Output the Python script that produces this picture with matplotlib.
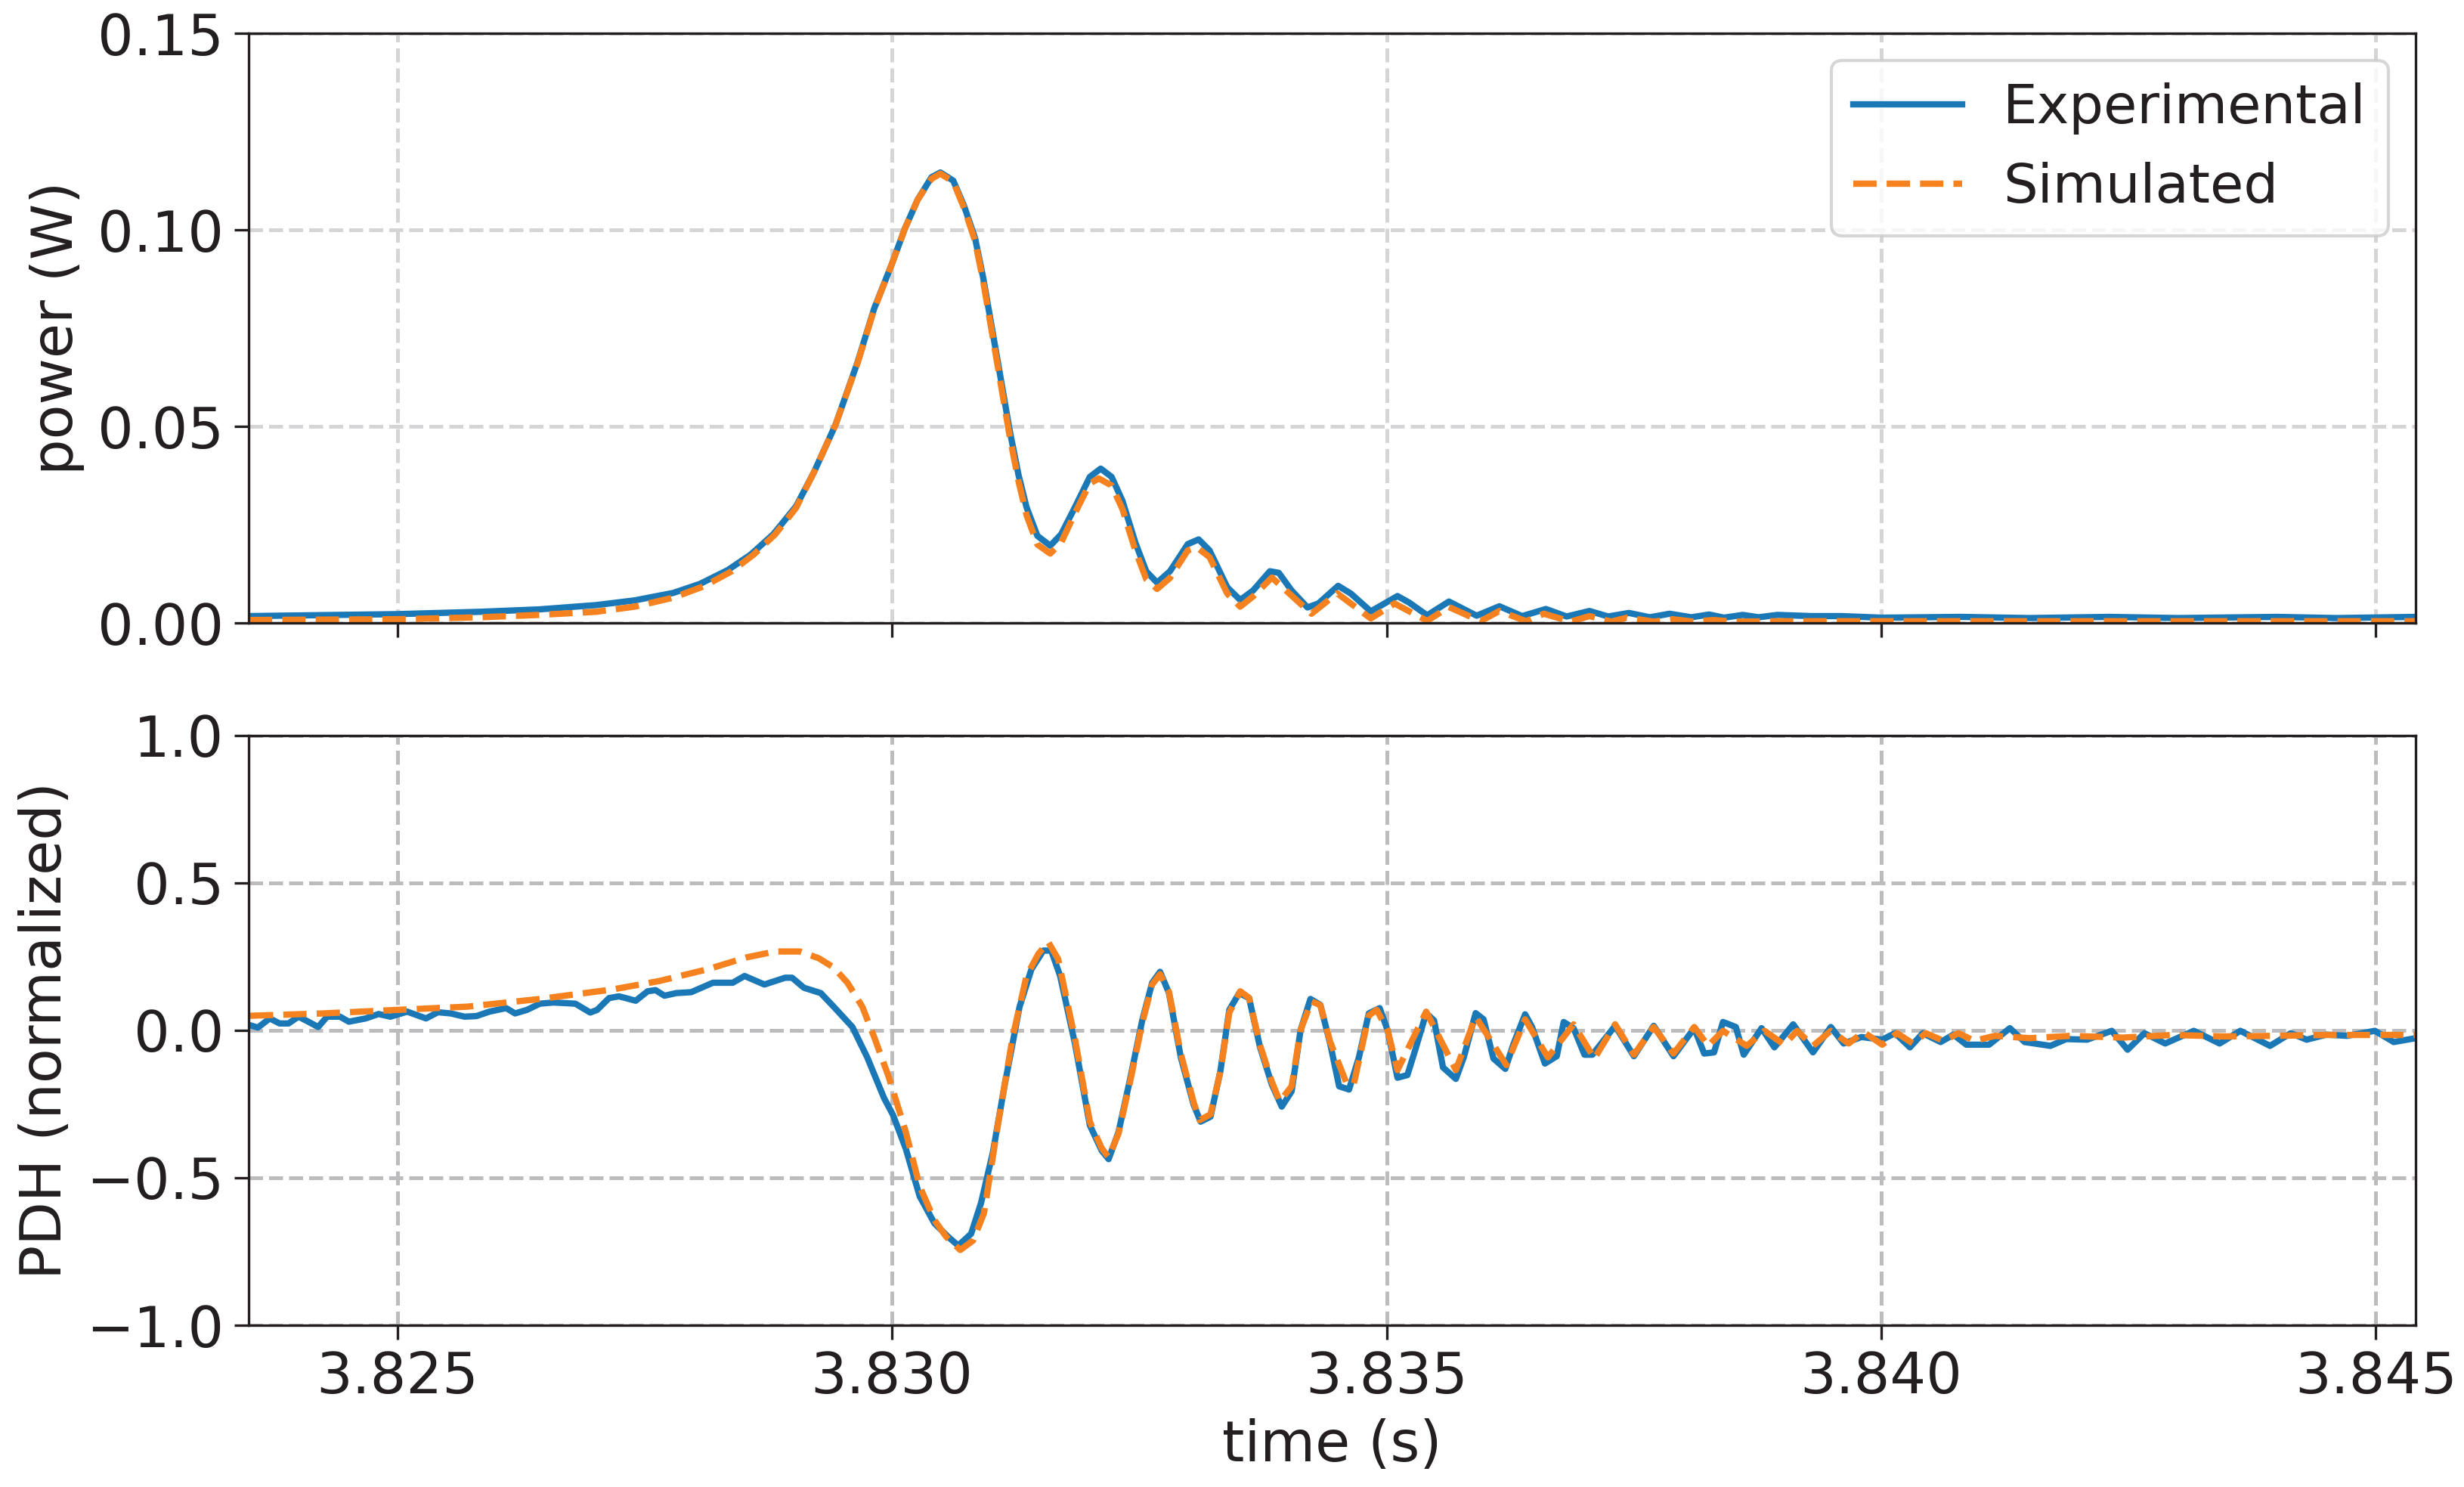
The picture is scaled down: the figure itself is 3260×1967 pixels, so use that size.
import matplotlib
matplotlib.use("Agg")
import matplotlib.pyplot as plt
import numpy as np

# ---- power (top panel) ----
t_pow_exp = [3.82350, 3.82500, 3.82584, 3.82643, 3.82701, 3.82740, 3.82779, 3.82806, 3.82834,
             3.82857, 3.82880, 3.82903, 3.82921, 3.82943, 3.82965, 3.82982, 3.83000, 3.83013,
             3.83026, 3.83040, 3.83049, 3.83062, 3.83073, 3.83084, 3.83092, 3.83101, 3.83110,
             3.83119, 3.83128, 3.83136, 3.83147, 3.83160, 3.83171, 3.83185, 3.83200, 3.83211,
             3.83222, 3.83233, 3.83246, 3.83257, 3.83268, 3.83281, 3.83299, 3.83310, 3.83321,
             3.83339, 3.83352, 3.83365, 3.83382, 3.83391, 3.83404, 3.83420, 3.83431, 3.83451,
             3.83464, 3.83484, 3.83511, 3.83523, 3.83541, 3.83563, 3.83591, 3.83614, 3.83637,
             3.83661, 3.83682, 3.83705, 3.83724, 3.83745, 3.83766, 3.83786, 3.83808, 3.83826,
             3.83841, 3.83860, 3.83876, 3.83895, 3.83929, 3.83960, 3.84000, 3.84080, 3.84150,
             3.84230, 3.84300, 3.84400, 3.84460, 3.84540]
p_exp = [0.0018, 0.0023, 0.0029, 0.0035, 0.0046, 0.0058, 0.0077, 0.0100, 0.0135,
         0.0174, 0.0226, 0.0297, 0.0383, 0.0505, 0.0662, 0.0800, 0.0914, 0.1003,
         0.1077, 0.1134, 0.1146, 0.1125, 0.1060, 0.0979, 0.0881, 0.0751, 0.0621,
         0.0490, 0.0376, 0.0295, 0.0222, 0.0197, 0.0226, 0.0295, 0.0372, 0.0393,
         0.0372, 0.0311, 0.0205, 0.0132, 0.0103, 0.0132, 0.0201, 0.0213, 0.0185,
         0.0091, 0.0059, 0.0083, 0.0132, 0.0128, 0.0083, 0.0040, 0.0050, 0.0095,
         0.0075, 0.0030, 0.0069, 0.0052, 0.0020, 0.0055, 0.0019, 0.0043, 0.0018,
         0.0036, 0.0017, 0.0031, 0.0017, 0.0026, 0.0015, 0.0024, 0.0015, 0.0022,
         0.0014, 0.0021, 0.0015, 0.0021, 0.0018, 0.0018, 0.0014, 0.0016, 0.0013,
         0.0016, 0.0013, 0.0016, 0.0013, 0.0016]

t_pow_sim = [3.82350, 3.82500, 3.82584, 3.82643, 3.82701, 3.82740, 3.82779, 3.82810, 3.82838,
             3.82860, 3.82882, 3.82903, 3.82921, 3.82943, 3.82965, 3.82982, 3.83000, 3.83013,
             3.83026, 3.83040, 3.83049, 3.83062, 3.83073, 3.83084, 3.83092, 3.83101, 3.83110,
             3.83119, 3.83128, 3.83136, 3.83147, 3.83160, 3.83171, 3.83185, 3.83200, 3.83209,
             3.83222, 3.83233, 3.83246, 3.83257, 3.83268, 3.83281, 3.83299, 3.83308, 3.83321,
             3.83339, 3.83352, 3.83365, 3.83384, 3.83404, 3.83424, 3.83450, 3.83484, 3.83508,
             3.83541, 3.83563, 3.83595, 3.83614, 3.83641, 3.83659, 3.83686, 3.83705, 3.83727,
             3.83743, 3.83770, 3.83789, 3.83810, 3.83830, 3.83850, 3.83900, 3.84000, 3.84540]
p_sim = [0.0008, 0.0010, 0.0015, 0.0021, 0.0029, 0.0042, 0.0065, 0.0094, 0.0132,
         0.0174, 0.0226, 0.0293, 0.0383, 0.0505, 0.0660, 0.0798, 0.0914, 0.1003,
         0.1077, 0.1130, 0.1143, 0.1122, 0.1055, 0.0972, 0.0872, 0.0740, 0.0608,
         0.0475, 0.0360, 0.0275, 0.0200, 0.0177, 0.0205, 0.0280, 0.0355, 0.0368,
         0.0350, 0.0290, 0.0185, 0.0112, 0.0087, 0.0115, 0.0185, 0.0193, 0.0168,
         0.0075, 0.0042, 0.0068, 0.0116, 0.0070, 0.0024, 0.0076, 0.0012, 0.0050,
         0.0006, 0.0041, 0.0005, 0.0031, 0.0005, 0.0024, 0.0004, 0.0018, 0.0004,
         0.0014, 0.0004, 0.0010, 0.0004, 0.0008, 0.0004, 0.0005, 0.0005, 0.0005]

# ---- PDH error signal (bottom panel) ----
t_pdh_exp = [3.82351, 3.82359, 3.82371, 3.82381, 3.82390, 3.82400, 3.82410, 3.82420, 3.82429,
             3.82442, 3.82451, 3.82468, 3.82481, 3.82493, 3.82510, 3.82529, 3.82541, 3.82554,
             3.82568, 3.82580, 3.82593, 3.82610, 3.82619, 3.82631, 3.82644, 3.82658, 3.82680,
             3.82695, 3.82702, 3.82714, 3.82724, 3.82741, 3.82753, 3.82761, 3.82770, 3.82782,
             3.82797, 3.82819, 3.82839, 3.82851, 3.82871, 3.82892, 3.82899, 3.82911, 3.82928,
             3.82941, 3.82960, 3.82975, 3.82992, 3.83001, 3.83014, 3.83028, 3.83043, 3.83057,
             3.83067, 3.83080, 3.83090, 3.83102, 3.83114, 3.83129, 3.83141, 3.83153, 3.83161,
             3.83170, 3.83185, 3.83200, 3.83212, 3.83219, 3.83229, 3.83241, 3.83253, 3.83263,
             3.83271, 3.83280, 3.83292, 3.83305, 3.83312, 3.83322, 3.83332, 3.83341, 3.83351,
             3.83361, 3.83372, 3.83384, 3.83394, 3.83404, 3.83413, 3.83423, 3.83433, 3.83443,
             3.83452, 3.83462, 3.83472, 3.83482, 3.83493, 3.83501,
             3.83511, 3.83521, 3.83529, 3.83540, 3.83548, 3.83557, 3.83570, 3.83578, 3.83590,
             3.83598, 3.83608, 3.83620, 3.83628, 3.83640, 3.83647, 3.83660, 3.83672, 3.83679,
             3.83689, 3.83700, 3.83708, 3.83731, 3.83750, 3.83770, 3.83790, 3.83811, 3.83821,
             3.83831, 3.83840, 3.83853,
             3.83861, 3.83879, 3.83892, 3.83911, 3.83931, 3.83949, 3.83962, 3.83980, 3.84001,
             3.84014, 3.84029, 3.84042, 3.84060, 3.84073, 3.84086, 3.84109, 3.84130, 3.84145,
             3.84171, 3.84187, 3.84208, 3.84233, 3.84249, 3.84266, 3.84287, 3.84316, 3.84342,
             3.84363, 3.84393, 3.84414, 3.84430, 3.84450, 3.84471, 3.84499, 3.84518, 3.84540]
pdh_exp = [0.017, 0.009, 0.040, 0.023, 0.023, 0.046, 0.029, 0.011, 0.046,
           0.046, 0.029, 0.040, 0.055, 0.046, 0.063, 0.040, 0.061, 0.057,
           0.046, 0.048, 0.063, 0.075, 0.057, 0.069, 0.090, 0.094, 0.090,
           0.060, 0.069, 0.109, 0.115, 0.100, 0.132, 0.136, 0.117, 0.126,
           0.129, 0.161, 0.161, 0.184, 0.155, 0.178, 0.178, 0.144, 0.126,
           0.080, 0.011, -0.092, -0.230, -0.287, -0.402, -0.563, -0.655, -0.701,
           -0.730, -0.690, -0.586, -0.414, -0.184, 0.080, 0.207, 0.270, 0.270,
           0.184, -0.046, -0.322, -0.408, -0.437, -0.345, -0.161, 0.034, 0.161,
           0.198, 0.126, -0.092, -0.253, -0.310, -0.293, -0.138, 0.069, 0.126,
           0.109, -0.057, -0.184, -0.259, -0.207, 0.000, 0.106, 0.086, -0.046,
           -0.190, -0.201, -0.092, 0.057, 0.075, 0.000,
           -0.161, -0.152, -0.066, 0.058, 0.033, -0.126, -0.165, -0.092, 0.058,
           0.037, -0.096, -0.131, -0.049, 0.054, 0.011, -0.113, -0.088, 0.028,
           0.007, -0.083, -0.083, 0.015, -0.088, 0.015, -0.088, 0.007, -0.079,
           -0.075, 0.028, 0.011,
           -0.083, 0.007, -0.058, 0.020, -0.075, 0.011, -0.045, -0.023, -0.032,
           -0.010, -0.058, -0.010, -0.040, -0.015, -0.049, -0.049, 0.007, -0.040,
           -0.053, -0.030, -0.032, -0.002, -0.066, -0.010, -0.045, -0.002, -0.045,
           -0.002, -0.053, -0.010, -0.032, -0.015, -0.019, -0.002, -0.040, -0.027]

t_pdh_sim = [3.82351, 3.82425, 3.82500, 3.82571, 3.82644, 3.82717, 3.82765, 3.82814, 3.82853,
             3.82882, 3.82907, 3.82926, 3.82941, 3.82955, 3.82970, 3.82982, 3.82997, 3.83014,
             3.83028, 3.83043, 3.83055, 3.83069, 3.83082, 3.83093, 3.83107, 3.83122, 3.83136,
             3.83148, 3.83158, 3.83168, 3.83185, 3.83200, 3.83212, 3.83219, 3.83229, 3.83241,
             3.83253, 3.83263, 3.83271, 3.83280, 3.83292, 3.83305, 3.83311, 3.83322, 3.83332,
             3.83341, 3.83352, 3.83361, 3.83372, 3.83384, 3.83392, 3.83404, 3.83413, 3.83424,
             3.83433, 3.83443, 3.83460, 3.83467, 3.83482, 3.83490, 3.83501,
             3.83511, 3.83540, 3.83570, 3.83590, 3.83621, 3.83640, 3.83663, 3.83689, 3.83710,
             3.83731, 3.83750, 3.83770, 3.83790, 3.83811, 3.83825, 3.83840,
             3.83864, 3.83882, 3.83902, 3.83915, 3.83931, 3.83949, 3.83967, 3.83982, 3.84001,
             3.84016, 3.84032, 3.84045, 3.84063, 3.84078, 3.84094, 3.84115, 3.84150, 3.84192,
             3.84244, 3.84295, 3.84347, 3.84398, 3.84450, 3.84540]
pdh_sim = [0.049, 0.057, 0.069, 0.080, 0.106, 0.138, 0.167, 0.207, 0.247,
           0.267, 0.267, 0.244, 0.213, 0.161, 0.080, -0.023, -0.161, -0.345,
           -0.529, -0.644, -0.701, -0.745, -0.713, -0.620, -0.322, -0.023, 0.184,
           0.259, 0.299, 0.241, -0.030, -0.310, -0.400, -0.431, -0.350, -0.170,
           0.025, 0.155, 0.190, 0.130, -0.080, -0.245, -0.305, -0.285, -0.140,
           0.060, 0.132, 0.110, -0.050, -0.175, -0.241, -0.190, 0.000, 0.098,
           0.085, -0.040, -0.184, -0.180, 0.050, 0.069, 0.000,
           -0.135, 0.063, -0.135, 0.046, -0.118, 0.037, -0.092, 0.020, -0.096,
           0.020, -0.083, 0.011, -0.079, 0.011, -0.053, -0.002,
           -0.053, -0.002, -0.049, -0.002, -0.053, -0.002, -0.045, -0.006, -0.049,
           -0.010, -0.045, -0.010, -0.036, -0.010, -0.036, -0.019, -0.027, -0.019,
           -0.025, -0.016, -0.021, -0.019, -0.016, -0.016]

ink = '#231f20'
blue = '#1b78b7'
orange = '#f5821f'

plt.rcParams['font.family'] = ['DejaVu Sans']
plt.rcParams['font.size'] = 18
plt.rcParams['text.color'] = ink
plt.rcParams['axes.labelcolor'] = ink
plt.rcParams['xtick.color'] = ink
plt.rcParams['ytick.color'] = ink
plt.rcParams['axes.edgecolor'] = ink
plt.rcParams['xtick.major.size'] = 4.5
plt.rcParams['ytick.major.size'] = 4.5

fig, (ax1, ax2) = plt.subplots(2, 1, sharex=True, figsize=(10.87, 6.557), dpi=300)
fig.subplots_adjust(left=0.101, right=0.980, top=0.9776, bottom=0.1088, hspace=0.19)

ax1.plot(t_pow_exp, p_exp, color=blue, lw=2, label='Experimental')
ax1.plot(t_pow_sim, p_sim, color=orange, lw=2, ls='--', label='Simulated')
ax1.set_ylim(0, 0.15)
ax1.set_yticks([0.0, 0.05, 0.10, 0.15])
ax1.set_ylabel('power (W)')
ax1.grid(True, ls='--', color='#d5d5d7', lw=1.2)
ax1.legend(loc='upper right', fancybox=True, edgecolor='#cccccc', fontsize=17.3,
           borderpad=0.4, handletextpad=0.75)
ax1.tick_params(labelbottom=False)

ax2.plot(t_pdh_exp, pdh_exp, color=blue, lw=2)
ax2.plot(t_pdh_sim, pdh_sim, color=orange, lw=2, ls='--')
ax2.set_ylim(-1.0, 1.0)
ax2.set_yticks([-1.0, -0.5, 0.0, 0.5, 1.0])
ax2.set_ylabel('PDH (normalized)')
ax2.set_xlabel('time (s)')
ax2.grid(True, ls='--', color='#bcbcbe', lw=1.2)

ax2.set_xlim(3.8235, 3.8454)
ax2.set_xticks([3.825, 3.830, 3.835, 3.840, 3.845])
ax2.xaxis.set_major_formatter(matplotlib.ticker.FormatStrFormatter('%.3f'))

fig.savefig('out.png', dpi=300)
